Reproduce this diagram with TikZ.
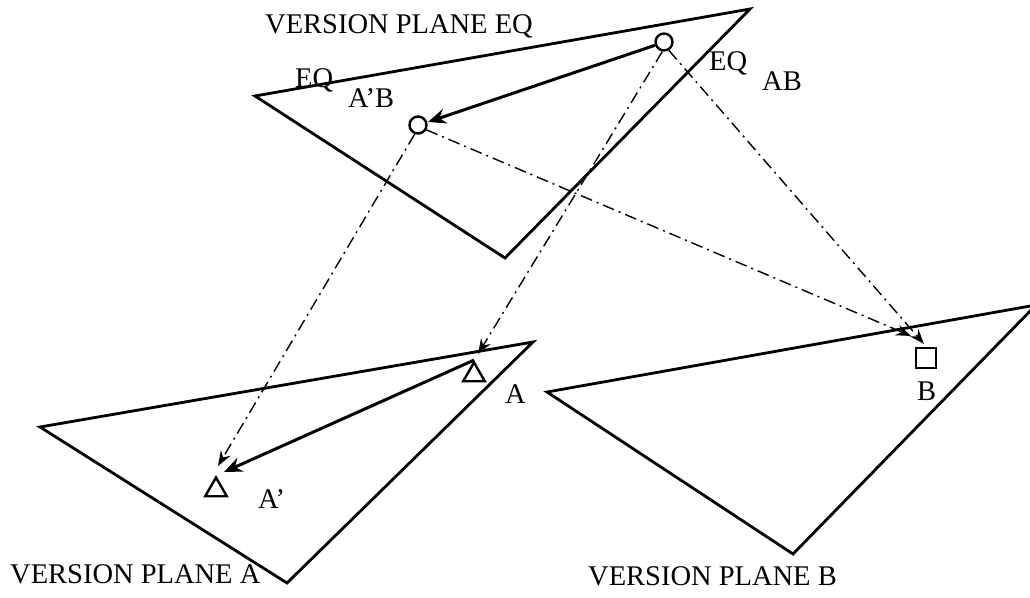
\documentclass[tikz,border=0pt]{standalone}
\usepackage{fontspec}
\setmainfont{Liberation Serif}
\usetikzlibrary{arrows.meta,shapes.geometric}
\begin{document}
\begin{tikzpicture}[x=1pt,y=-1pt,
  plane/.style={line width=2.8pt,line join=miter},
  lbl/.style={font=\fontsize{28.5}{30}\selectfont,inner sep=0pt},
  pt/.style={draw,line width=2.4pt,inner sep=0pt},
  solidarr/.style={line width=3pt,-{Stealth[length=18pt,width=15pt,inset=6pt]}},
  dd/.style={line width=1.4pt,dash pattern=on 12pt off 5pt on 2pt off 5pt,
     -{Stealth[open,length=15pt,width=11pt,inset=5pt,line width=2.2pt]}}]
\useasboundingbox (0,0) rectangle (1030,597);
% planes
\draw[plane] (255,96) -- (750,9) -- (505,258) -- cycle;
\draw[plane] (40,427) -- (533,342) -- (287,583) -- cycle;
\draw[plane] (547,392) -- (1036,305) -- (793,554) -- cycle;
% points
\node[pt,circle,minimum size=17pt] (eqab) at (664,42) {};
\node[pt,circle,minimum size=17pt] (apb) at (418,125) {};
\node[pt,regular polygon,regular polygon sides=3,minimum size=25pt] (ta) at (474,375) {};
\node[pt,regular polygon,regular polygon sides=3,minimum size=25pt] (tap) at (216,490) {};
\node[pt,rectangle,minimum size=20pt] (sb) at (926,358) {};
% arrow tips
\coordinate (tipapb) at (428,122);
\coordinate (tipap1) at (224,472);
\coordinate (tipap2) at (218,466);
\coordinate (tipa) at (478,354);
\coordinate (tipb1) at (911,336);
\coordinate (tipb2) at (924,344);
% solid arrows
\draw[solidarr] (eqab.200) -- (tipapb);
\draw[solidarr] (ta.north) -- (tipap1);
% dash-dot arrows
\draw[dd] (apb.250) -- (tipap2);
\draw[dd] (apb.-30) -- (tipb1);
\draw[dd] (eqab.260) -- (tipa);
\draw[dd] (eqab.-60) -- (tipb2);
% labels
\node[lbl,anchor=base west] (leq) at (265,33) {VERSION PLANE EQ};
\node[lbl,anchor=base west] (la) at (10,583) {VERSION PLANE A};
\node[lbl,anchor=base west] (lb) at (588,585) {VERSION PLANE B};
\node[lbl,anchor=base west] (eq1) at (295,87) {EQ};
\node[lbl,anchor=base west] (apbl) at (348,107) {A’B};
\node[lbl,anchor=base west] (eq2) at (709,70) {EQ};
\node[lbl,anchor=base west] (abl) at (762,90) {AB};
\node[lbl,anchor=base west] (al) at (505,403) {A};
\node[lbl,anchor=base west] (apl) at (258,508) {A’};
\node[lbl,anchor=base west] (bl) at (917,400) {B};
\end{tikzpicture}
\end{document}
